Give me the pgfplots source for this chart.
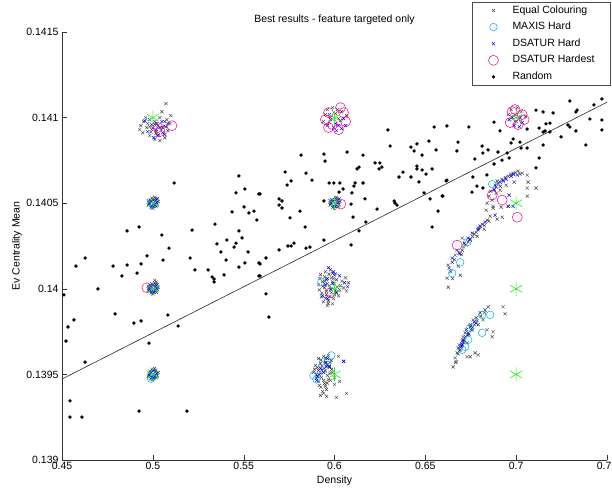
\documentclass[border=0pt]{standalone}
\usepackage{pgfplots}
\pgfplotsset{compat=1.18}
\usepackage{fontspec}
\setmainfont{Liberation Sans}

\definecolor{eqgray}{HTML}{464646}
\definecolor{tgreen}{HTML}{22EE22}

\pgfplotsset{
  mylegimg/.style={legend image code/.code={\path (-18pt,0pt) (15.5pt,0pt); \draw[##1] plot coordinates {(0pt,0pt)};}},
}

\begin{document}
\begin{tikzpicture}[font=\fontsize{10.5}{12.6}\selectfont]
\begin{axis}[
    at={(0,0)}, anchor=south west,
    scale only axis,
    width=545pt, height=428pt,
    xmin=0.45, xmax=0.75,
    ymin=0.139, ymax=0.1415,
    axis x line*=bottom, axis y line*=left,
    axis line style={-, black!80},
    tick align=inside,
    major tick length=5pt,
    tick style={black!80},
    scaled ticks=false,
    xtick={0.45,0.5,0.55,0.6,0.65,0.7,0.75},
    xticklabels={0.45,0.5,0.55,0.6,0.65,0.7,0.75},
    ytick={0.139,0.1395,0.14,0.1405,0.141,0.1415},
    yticklabels={0.139,0.1395,0.14,0.1405,0.141,0.1415},
    xticklabel style={inner sep=2pt},
    title={Best results - feature targeted only},
    title style={at={(axis description cs:0.5,1)}, anchor=center, yshift=6pt},
    xlabel={Density},
    xlabel style={at={(axis description cs:0.5,0)}, anchor=center, yshift=-21pt},
    ylabel={Ev Centrality Mean},
    ylabel style={at={(axis description cs:-0.0826,0.5)}, anchor=center},
    legend cell align=left,
    legend style={at={(rel axis cs:1.0055,1.0701)}, anchor=north east,
        draw=black!70, inner xsep=3pt, inner ysep=0pt, row sep=0pt,
        nodes={text height=7.6pt, text depth=2.4pt, inner sep=3.3pt}},
]
% Equal Colouring
\addplot[only marks, mark=x, mark size=2.2pt, eqgray, line width=0.45pt, mylegimg] coordinates {
(0.5072,0.141082) (0.5050,0.141035) (0.4950,0.140977) (0.4928,0.140930) (0.4945,0.140912)
(0.4967,0.140942) (0.4983,0.140895) (0.5011,0.140872) (0.5039,0.140866) (0.5066,0.140883)
(0.5083,0.140924) (0.5099,0.141012) (0.5077,0.140988) (0.5028,0.140953) (0.4994,0.140930)
(0.4972,0.140965) (0.5055,0.140942) (0.5017,0.140907) (0.5094,0.140965) (0.4961,0.141000)
(0.4934,0.140953) (0.5039,0.141000) (0.5066,0.140977) (0.4983,0.140947) (0.5011,0.140977)
(0.5000,0.140940) (0.5020,0.140920) (0.5045,0.140930) (0.5030,0.140900) (0.4990,0.140915)
(0.5060,0.140950) (0.5010,0.140960)
(0.4985,0.140520) (0.5015,0.140525) (0.5025,0.140495) (0.4975,0.140490) (0.5000,0.140470)
(0.5010,0.140535) (0.4990,0.140475) (0.5030,0.140510) (0.4980,0.140505) (0.5020,0.140480)
(0.5005,0.140500) (0.4995,0.140530)
(0.4985,0.140020) (0.5015,0.140025) (0.5025,0.139995) (0.4975,0.139990) (0.5000,0.139970)
(0.5010,0.140035) (0.4990,0.139975) (0.5030,0.140010) (0.4980,0.140005) (0.5020,0.139980)
(0.5005,0.140000) (0.4995,0.140030) (0.5010,0.140050) (0.5020,0.140040)
(0.4985,0.139520) (0.5015,0.139525) (0.5025,0.139495) (0.4975,0.139490) (0.5000,0.139470)
(0.5010,0.139535) (0.4990,0.139475) (0.5030,0.139510) (0.4980,0.139505) (0.5020,0.139480)
(0.5005,0.139500) (0.4995,0.139530)
(0.5961,0.141047) (0.5989,0.141058) (0.6017,0.141047) (0.5950,0.141018) (0.6039,0.141035)
(0.6006,0.141023) (0.5978,0.141000) (0.6066,0.141012) (0.5939,0.140977) (0.6022,0.140994)
(0.5985,0.140520) (0.6015,0.140525) (0.6025,0.140495) (0.5975,0.140490) (0.6000,0.140470)
(0.6010,0.140535) (0.5990,0.140475) (0.6030,0.140510) (0.5980,0.140505) (0.6020,0.140480)
(0.5923,0.140082) (0.5950,0.140099) (0.5978,0.140111) (0.6006,0.140088) (0.5934,0.140041)
(0.5956,0.140053) (0.5983,0.140064) (0.6011,0.140053) (0.5917,0.139994) (0.5945,0.140006)
(0.5972,0.140018) (0.6000,0.140029) (0.5928,0.139953) (0.5956,0.139965) (0.5983,0.139977)
(0.5939,0.139924) (0.5967,0.139930) (0.5994,0.139942) (0.6022,0.139959) (0.6061,0.140064)
(0.6077,0.140035) (0.6066,0.139988) (0.6033,0.140018) (0.5961,0.139901) (0.6028,0.139994)
(0.5912,0.140023) (0.5989,0.139912)
(0.5945,0.140070) (0.5970,0.140085) (0.5995,0.140060) (0.5935,0.140015) (0.5960,0.140030)
(0.5990,0.140040) (0.6015,0.140010) (0.5930,0.139975) (0.5955,0.139985) (0.5980,0.140000)
(0.6005,0.139990) (0.5950,0.139945) (0.5975,0.139955) (0.6000,0.139965) (0.5945,0.140045)
(0.5920,0.140060) (0.5965,0.139915) (0.5990,0.140090) (0.6040,0.140045) (0.6050,0.140005)
(0.5912,0.139593) (0.5940,0.139605) (0.5967,0.139611) (0.5895,0.139553) (0.5923,0.139564)
(0.5956,0.139570) (0.5983,0.139582) (0.5884,0.139512) (0.5912,0.139523) (0.5945,0.139535)
(0.5972,0.139541) (0.5901,0.139477) (0.5928,0.139482) (0.5961,0.139494) (0.5917,0.139436)
(0.5945,0.139447) (0.5934,0.139401) (0.5956,0.139412) (0.6022,0.139605) (0.6050,0.139576)
(0.6000,0.139442) (0.6028,0.139459) (0.6066,0.139389) (0.6011,0.139366) (0.5978,0.139465)
(0.5923,0.139377) (0.5956,0.139372) (0.5989,0.139512)
(0.5925,0.139585) (0.5950,0.139595) (0.5975,0.139570) (0.5905,0.139540) (0.5930,0.139550)
(0.5960,0.139555) (0.5985,0.139530) (0.5900,0.139500) (0.5925,0.139505) (0.5950,0.139520)
(0.5975,0.139505) (0.5910,0.139460) (0.5940,0.139465) (0.5965,0.139470) (0.5925,0.139425)
(0.5950,0.139430) (0.5940,0.139390) (0.6000,0.139480) (0.5890,0.139530) (0.5960,0.139450)
(0.6972,0.141047) (0.7006,0.141058) (0.7028,0.141035) (0.6956,0.141018) (0.6994,0.141018)
(0.7050,0.141006)
(0.6626,0.140009) (0.6620,0.140062) (0.6692,0.140079) (0.6681,0.140132) (0.6648,0.140155)
(0.6626,0.140138) (0.6664,0.140196) (0.6703,0.140225) (0.6725,0.140255) (0.6747,0.140284)
(0.6703,0.140296) (0.6769,0.140319) (0.6791,0.140354) (0.6813,0.140377) (0.6841,0.140401)
(0.6824,0.140348) (0.6857,0.140424) (0.6786,0.140307) (0.6835,0.140459) (0.6873,0.140482)
(0.6868,0.140518) (0.6890,0.140558) (0.6912,0.140599) (0.6895,0.140629) (0.6928,0.140634)
(0.6956,0.140658) (0.6983,0.140675) (0.7011,0.140687) (0.7033,0.140675) (0.7061,0.140664)
(0.7066,0.140623) (0.7061,0.140588) (0.7110,0.140588) (0.7061,0.140541) (0.6945,0.140605)
(0.6989,0.140623) (0.6840,0.140500) (0.6873,0.140471) (0.6917,0.140477) (0.6956,0.140482)
(0.6923,0.140418) (0.6895,0.140407) (0.6912,0.140576) (0.6851,0.140541)
(0.6640,0.140100) (0.6660,0.140170) (0.6685,0.140210) (0.6710,0.140245) (0.6735,0.140275)
(0.6760,0.140305) (0.6780,0.140330) (0.6800,0.140355) (0.6825,0.140370) (0.6850,0.140395)
(0.6880,0.140580) (0.6900,0.140615) (0.6920,0.140640) (0.6940,0.140650) (0.6970,0.140670)
(0.6995,0.140680) (0.7020,0.140670) (0.6860,0.140570) (0.6650,0.140060) (0.6700,0.140200)
(0.6846,0.139895) (0.6928,0.139895) (0.6939,0.139854) (0.6873,0.139749) (0.6868,0.139720)
(0.6791,0.139614) (0.6747,0.139603) (0.6708,0.139720) (0.6730,0.139685) (0.6692,0.139644)
(0.6664,0.139597) (0.6653,0.139544) (0.6763,0.139819) (0.6791,0.139790) (0.6818,0.139819)
(0.6840,0.139761) (0.6758,0.139761) (0.6736,0.139743) (0.6675,0.139626) (0.6730,0.139603)
(0.6774,0.139626) (0.6780,0.139831) (0.6802,0.139860) (0.6829,0.139877) (0.6747,0.139790)
(0.6725,0.139761) (0.6703,0.139696) (0.6686,0.139673) (0.6670,0.139574)
(0.6665,0.139570) (0.6680,0.139620) (0.6695,0.139660) (0.6715,0.139700) (0.6735,0.139730)
(0.6750,0.139760) (0.6770,0.139790) (0.6785,0.139815) (0.6805,0.139840) (0.6825,0.139860)
(0.6700,0.139680) (0.6720,0.139720) (0.6760,0.139775) (0.6690,0.139640)
};
% MAXIS Hard
\addplot[only marks, mark=o, mark size=3.8pt, cyan, line width=0.5pt, mylegimg] coordinates {
(0.5000,0.140495) (0.5000,0.140000)
(0.4995,0.139485) (0.5005,0.139505) (0.4990,0.139475)
(0.5928,0.140041)
(0.5983,0.139611) (0.5901,0.139471) (0.5934,0.139553) (0.5961,0.139570) (0.5884,0.139494)
(0.6648,0.140091) (0.6731,0.140272) (0.6868,0.140611) (0.6692,0.140155)
(0.6813,0.139848) (0.6857,0.139848) (0.6747,0.139772) (0.6813,0.139743) (0.6736,0.139702)
(0.6703,0.139644) (0.6719,0.139661)
};
% DSATUR Hard
\addplot[only marks, mark=x, mark size=2.2pt, blue, line width=0.45pt, mylegimg] coordinates {
(0.4994,0.140959) (0.5017,0.140930) (0.5039,0.140942) (0.5028,0.140895) (0.5055,0.140912)
(0.5006,0.140883) (0.4972,0.140918) (0.5072,0.140947) (0.5050,0.140977) (0.4983,0.140988)
(0.5022,0.140965) (0.5066,0.140901) (0.5083,0.140965) (0.4956,0.140982)
(0.4990,0.140510) (0.5010,0.140490) (0.5000,0.140520) (0.4980,0.140495) (0.5020,0.140505)
(0.5005,0.140480) (0.4995,0.140485) (0.5015,0.140515) (0.5025,0.140525) (0.4975,0.140515)
(0.4990,0.140010) (0.5010,0.139990) (0.5000,0.140020) (0.4980,0.139995) (0.5020,0.140005)
(0.5005,0.139980) (0.4995,0.139985) (0.5015,0.140015) (0.5025,0.140025) (0.4975,0.140015)
(0.4990,0.139510) (0.5010,0.139490) (0.5000,0.139520) (0.4980,0.139495) (0.5020,0.139505)
(0.5005,0.139480) (0.4995,0.139485) (0.5015,0.139515)
(0.5978,0.140988) (0.6006,0.140965) (0.6033,0.140982) (0.5995,0.140942) (0.6022,0.140953)
(0.6050,0.140994) (0.5961,0.140953) (0.6011,0.140924) (0.6039,0.140936) (0.5972,0.141018)
(0.6061,0.140953)
(0.5990,0.140510) (0.6010,0.140490) (0.6000,0.140520) (0.5980,0.140495) (0.6020,0.140505)
(0.6005,0.140480) (0.5995,0.140485) (0.6015,0.140515) (0.6025,0.140525) (0.5975,0.140515)
(0.5967,0.140123) (0.5994,0.140099) (0.6028,0.140076) (0.6055,0.140035) (0.6072,0.140012)
(0.5950,0.140023) (0.5978,0.139994) (0.6011,0.139977) (0.5934,0.139959) (0.5961,0.139942)
(0.5960,0.140060) (0.5990,0.140030) (0.6000,0.140080)
(0.5923,0.139535) (0.5950,0.139570) (0.5906,0.139488) (0.5972,0.139547) (0.6050,0.139576)
(0.5940,0.139512) (0.5901,0.139465) (0.5961,0.139593)
(0.5930,0.139525) (0.5955,0.139545) (0.5915,0.139500)
(0.6978,0.141000) (0.7000,0.140977) (0.7022,0.141000) (0.6989,0.140953) (0.7017,0.140947)
(0.6961,0.140988) (0.7033,0.140971)
(0.6648,0.140179) (0.6675,0.140225) (0.6714,0.140266) (0.6736,0.140296) (0.6758,0.140325)
(0.6802,0.140366) (0.6829,0.140389) (0.6631,0.140120) (0.6884,0.140605) (0.6912,0.140623)
(0.6945,0.140640) (0.6972,0.140658) (0.7006,0.140664) (0.6879,0.140576) (0.6956,0.140482)
(0.6983,0.140482) (0.6884,0.140430) (0.6961,0.140547)
(0.6690,0.140205) (0.6745,0.140290) (0.6790,0.140345) (0.6890,0.140595) (0.6930,0.140630)
(0.6985,0.140668)
(0.6719,0.139743) (0.6708,0.139702) (0.6747,0.139778) (0.6703,0.139673) (0.6681,0.139655)
(0.6769,0.139807) (0.6710,0.139690) (0.6740,0.139735) (0.6780,0.139800) (0.6700,0.139665)
};
% DSATUR Hardest
\addplot[only marks, mark=o, mark size=5pt, magenta, line width=0.5pt, mylegimg] coordinates {
(0.5039,0.140918) (0.5105,0.140953) (0.5028,0.140942)
(0.4967,0.140006)
(0.5967,0.141029) (0.6050,0.141029) (0.5967,0.140942) (0.6022,0.140930) (0.6061,0.140977)
(0.5950,0.140988) (0.6033,0.141058) (0.5989,0.140959)
(0.6035,0.140495)
(0.5978,0.139977)
(0.6978,0.141035) (0.7033,0.141018) (0.6967,0.140971) (0.7011,0.140959) (0.7044,0.140988)
(0.6994,0.141047)
(0.6675,0.140255) (0.6868,0.140547) (0.6923,0.140518) (0.7006,0.140418)
};
% Random
\addplot[only marks, mark=*, mark size=1.5pt, black, mylegimg] coordinates {
(0.5117,0.140618) (0.5474,0.140659) (0.5458,0.140560) (0.5507,0.140583) (0.5584,0.140554)
(0.5436,0.140449) (0.5502,0.140478) (0.5529,0.140443) (0.5557,0.140454) (0.5573,0.140402)
(0.4858,0.140338) (0.4924,0.140361) (0.5050,0.140314) (0.5216,0.140343) (0.5342,0.140378)
(0.5474,0.140338) (0.5491,0.140297) (0.5408,0.140285) (0.5353,0.140262) (0.5458,0.140267)
(0.5447,0.140244) (0.5089,0.140238) (0.5375,0.140215) (0.5524,0.140215) (0.4968,0.140192)
(0.4627,0.140180) (0.5205,0.140180) (0.5056,0.140168) (0.5403,0.140168) (0.5507,0.140151)
(0.5584,0.140151) (0.4577,0.140133) (0.4781,0.140133) (0.4858,0.140139) (0.4935,0.140145)
(0.5474,0.140127) (0.5232,0.140110) (0.5304,0.140110) (0.4913,0.140092) (0.4830,0.140075)
(0.5392,0.140081) (0.5326,0.140069) (0.5337,0.140057) (0.5337,0.140040) (0.5584,0.140075)
(0.4511,0.139964) (0.4698,0.139999) (0.4566,0.139818) (0.4533,0.139777) (0.4792,0.139853)
(0.4896,0.139800) (0.4935,0.139812) (0.5083,0.139847) (0.5139,0.139783) (0.4522,0.139695)
(0.4979,0.139683) (0.4627,0.139572) (0.4544,0.139345) (0.4544,0.139251) (0.4610,0.139251)
(0.4924,0.139286) (0.5188,0.139286)
(0.6294,0.140928) (0.6548,0.140945) (0.6619,0.140951) (0.6306,0.140834) (0.6421,0.140828)
(0.6454,0.140846) (0.6520,0.140863) (0.6438,0.140805) (0.6559,0.140811) (0.6482,0.140781)
(0.5816,0.140781) (0.5942,0.140787) (0.6069,0.140799) (0.6157,0.140781) (0.5948,0.140746)
(0.6223,0.140735) (0.6250,0.140735) (0.6245,0.140700) (0.6261,0.140711) (0.6135,0.140711)
(0.6124,0.140700) (0.6454,0.140717) (0.6454,0.140700) (0.6482,0.140694) (0.6537,0.140700)
(0.6504,0.140670) (0.6377,0.140682) (0.6355,0.140653) (0.6421,0.140653) (0.6465,0.140624)
(0.6614,0.140630) (0.5728,0.140682) (0.5843,0.140676) (0.5761,0.140630) (0.5739,0.140606)
(0.5876,0.140635) (0.5970,0.140618) (0.5997,0.140618) (0.6030,0.140618) (0.6113,0.140618)
(0.6107,0.140600) (0.6157,0.140618) (0.6047,0.140583) (0.6025,0.140565) (0.6096,0.140560)
(0.5590,0.140554) (0.6493,0.140560) (0.6592,0.140542) (0.6526,0.140525) (0.5695,0.140525)
(0.5711,0.140513) (0.5942,0.140513) (0.6168,0.140525) (0.6328,0.140513) (0.6333,0.140501)
(0.6344,0.140489) (0.5695,0.140489) (0.5711,0.140472) (0.6091,0.140495) (0.5810,0.140454)
(0.6234,0.140466) (0.6570,0.140454) (0.5755,0.140414) (0.6102,0.140419) (0.6173,0.140390)
(0.5838,0.140361) (0.6537,0.140361) (0.6135,0.140338) (0.5942,0.140285) (0.5777,0.140267)
(0.5744,0.140250) (0.5761,0.140250) (0.5865,0.140244) (0.5843,0.140238) (0.6091,0.140256)
(0.5695,0.140227) (0.5623,0.140180) (0.5590,0.140145) (0.5590,0.140075) (0.5623,0.139970)
(0.5639,0.139835)
(0.7296,0.141097) (0.7472,0.141109) (0.7428,0.141074) (0.7109,0.141044) (0.7148,0.141033)
(0.7203,0.141027) (0.7335,0.141044) (0.7329,0.141033) (0.7406,0.140992) (0.7472,0.140986)
(0.6740,0.140945) (0.6878,0.140974) (0.6911,0.140922) (0.7060,0.140933) (0.7164,0.140963)
(0.7186,0.140968) (0.7126,0.140939) (0.7148,0.140916) (0.7159,0.140922) (0.7186,0.140916)
(0.7285,0.140957) (0.7296,0.140945) (0.7329,0.140922) (0.7472,0.140928) (0.7247,0.140887)
(0.6983,0.140875) (0.7021,0.140857) (0.6972,0.140852) (0.6680,0.140857) (0.6812,0.140834)
(0.7148,0.140840) (0.7384,0.140840) (0.6674,0.140805) (0.6845,0.140811) (0.6900,0.140799)
(0.6817,0.140793) (0.7027,0.140822) (0.7060,0.140822) (0.6950,0.140793) (0.6961,0.140764)
(0.6773,0.140758) (0.6878,0.140729) (0.6922,0.140752) (0.7126,0.140764) (0.7109,0.140706)
(0.6839,0.140665) (0.6762,0.140653) (0.6619,0.140635) (0.6784,0.140600) (0.6817,0.140589)
(0.6757,0.140565) (0.6597,0.140542)
};
% targets
\addplot[only marks, mark=asterisk, mark size=7pt, tgreen, line width=0.6pt, forget plot] coordinates {
(0.5,0.141) (0.5,0.1405) (0.5,0.14) (0.5,0.1395)
(0.6,0.141) (0.6,0.1405) (0.6,0.14) (0.6,0.1395)
(0.7,0.141) (0.7,0.1405) (0.7,0.14) (0.7,0.1395)
};
% fitted line
\addplot[black!85, line width=0.6pt, forget plot] coordinates {(0.45,0.139473) (0.75,0.141090)};
\legend{\makebox[91pt][l]{Equal Colouring},MAXIS Hard,DSATUR Hard,DSATUR Hardest,Random}
\end{axis}
\pgfresetboundingbox
\useasboundingbox (-62pt,-32pt) rectangle (550pt,460pt);
\end{tikzpicture}
\end{document}
